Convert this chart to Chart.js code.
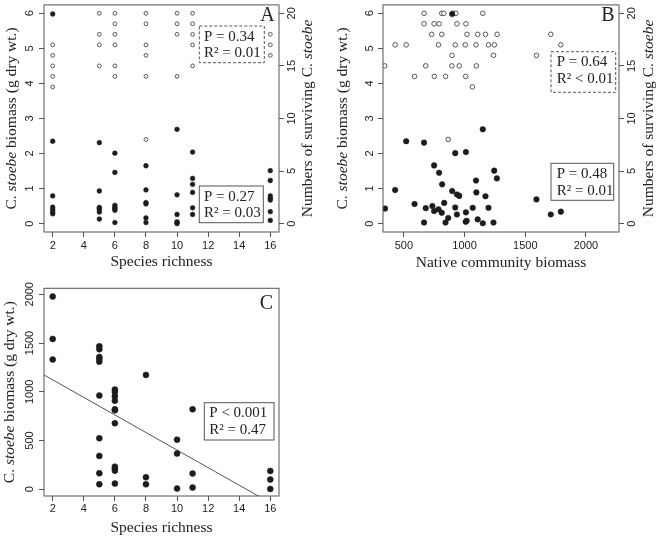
<!DOCTYPE html>
<html><head><meta charset="utf-8">
<script src="https://cdn.jsdelivr.net/npm/chart.js@4.4.0/dist/chart.umd.min.js"></script>
<style>
html,body{margin:0;padding:0;background:#fff;}
#wrap{position:relative;width:667px;height:542px;overflow:hidden;background:#fff;}
canvas{position:absolute;}
</style></head><body>
<div id="wrap">
<canvas id="cA" width="333" height="270" style="left:0;top:0"></canvas>
<canvas id="cB" width="334" height="270" style="left:333px;top:0"></canvas>
<canvas id="cC" width="333" height="272" style="left:0;top:270px"></canvas>
</div>
<script>
// ---------- DATA ----------
// Panel A: filled = C. stoebe biomass (left axis), open = number surviving (right axis)
const aBioRichness = [2,2,2,2,2,2,2, 5,5,5,5,5,5, 6,6,6,6,6,6,6, 8,8,8,8,8,8, 10,10,10,10,10,10, 11,11,11,11,11,11, 16,16,16,16,16,16,16];
const aBiomass     = [5.98,2.35,0.79,0.47,0.40,0.33,0.28, 2.31,0.93,0.46,0.41,0.33,0.13, 2.01,1.46,0.52,0.46,0.43,0.38,0.03, 1.65,0.96,0.60,0.56,0.16,0.03, 2.69,0.82,0.26,0.05,0.02,0.00, 2.04,1.29,1.12,0.89,0.45,0.26, 1.51,1.23,0.79,0.72,0.67,0.34,0.09];
const aCountRichness = [2,2,2,2,2, 5,5,5,5, 6,6,6,6,6,6, 8,8,8,8,8,8, 10,10,10,10, 11,11,11,11,11, 16,16,16];
const aCount         = [17,16,15,14,13, 20,18,17,15, 20,19,18,17,15,14, 20,19,17,16,14,8, 20,19,18,14, 20,19,18,17,15, 18,17,16];

// Panel B: against native community biomass
const bBioNative = [898,519,666,923,1011,1150,749,790,815,1094,1244,1266,428,898,937,956,1097,1172,345,588,680,735,749,785,812,832,923,937,1011,1067,1197,666,843,865,1017,1009,1108,1150,1238,1592,1710,1793];
const bBiomass   = [5.98,2.35,2.31,2.01,2.04,2.69,1.66,1.45,1.12,1.23,1.51,1.29,0.96,0.93,0.83,0.79,0.89,0.78,0.43,0.56,0.44,0.50,0.36,0.41,0.31,0.59,0.46,0.26,0.32,0.45,0.45,0.03,0.03,0.16,0.08,0.05,0.12,0.01,0.03,0.69,0.26,0.34];
const bCountNative = [666,812,829,905,928,1150, 666,749,790,937,1011, 729,812,1020,1108,1172,1268,1710, 428,519,785,923,1006,1094,1197,1245,1793, 897,1238,1592, 342,680,895,956,1097, 588,751,843,1009, 1064, 865];
const bCount       = [20,20,20,20,20,20, 19,19,19,19,19, 18,18,18,18,18,18,18, 17,17,17,17,17,17,17,17,17, 16,16,16, 15,15,15,15,15, 14,14,14,14, 13, 8];

// Panel C: community-level C. stoebe biomass vs species richness
const cRichness = [2,2,2, 5,5,5,5,5,5,5,5,5,5, 6,6,6,6,6,6,6,6,6,6,6, 8,8,8, 10,10,10, 11,11,11, 16,16,16];
const cBiomass  = [1976,1542,1330, 1467,1436,1357,1337,1309,961,523,342,164,51, 1022,998,954,909,820,810,677,232,212,191,58, 1173,123,51, 509,366,7, 820,161,17, 188,99,3];
const cFitIntercept = 1302;
const cFitSlope = -90;

// Tick labels
const richnessTicks = [2,4,6,8,10,12,14,16];
const biomassTicks = [0,1,2,3,4,5,6];
const countTicks = [0,5,10,15,20];
const nativeTicks = [500,1000,1500,2000];
const commBiomassTicks = [0,500,1000,1500,2000];

// ---------- STYLE ----------
const SANS = "'Liberation Sans', Arial, sans-serif";
const SERIF = "'Liberation Serif', 'Times New Roman', serif";
const AXIS = '#555';
const TXT = '#222';

function pts(xs, ys){ return xs.map((x,i)=>({x:x, y:ys[i]})); }

function axis(o){
  const vert = o.position !== 'bottom';
  return {
    type:'linear', position:o.position, min:o.min, max:o.max,
    grid:{display:true, drawOnChartArea:false, drawTicks:true, tickLength:5, color:AXIS, tickColor:AXIS, tickWidth:1},
    border:{display:false},
    ticks:{autoSkip:false, display:!vert, padding:o.pad||0, font:{family:SANS, size:11}, color:TXT,
           maxRotation:0, minRotation:0, callback:v=>String(v)},
    afterBuildTicks:s=>{ s.ticks = o.ticks.map(v=>({value:v})); },
    afterFit:s=>{ if(vert){ s.width=o.size; } else { s.height=o.size; } s.paddingTop=0; s.paddingBottom=0; s.paddingLeft=0; s.paddingRight=0; },
    labelOffset:o.labOff
  };
}

const extras = {
  cA:{
    titles:[
      {kind:'x', off:30, parts:[['Species richness',false]]},
      {kind:'yl', off:32, parts:[['C. ',false],['stoebe',true],[' biomass (g dry wt.)',false]]},
      {kind:'yr', off:29.3, parts:[['Numbers of surviving C. ',false],['stoebe',true]]}
    ],
    boxes:[
      {x:199.3, y:26, w:65, h:36.7, dash:true, tx:204, lines:['P = 0.34','R² = 0.01']},
      {x:199.3, y:186, w:64, h:36.7, dash:false, tx:204, lines:['P = 0.27','R² = 0.03']}
    ],
    letter:{t:'A', x:267.5, y:15.5}
  },
  cB:{
    titles:[
      {kind:'x', off:31, parts:[['Native community biomass',false]]},
      {kind:'yl', off:40, parts:[['C. ',false],['stoebe',true],[' biomass (g dry wt.)',false]]},
      {kind:'yr', off:30, parts:[['Numbers of surviving C. ',false],['stoebe',true]]}
    ],
    boxes:[
      {x:218, y:51.7, w:64.7, h:40.6, dash:true, tx:223.7, lines:['P = 0.64','R² < 0.01']},
      {x:218, y:163.3, w:62.7, h:37, dash:false, tx:223.7, lines:['P = 0.48','R² = 0.01']}
    ],
    letter:{t:'B', x:275, y:15.5}
  },
  cC:{
    titles:[
      {kind:'x', off:32.3, parts:[['Species richness',false]]},
      {kind:'yl', off:34, parts:[['C. ',false],['stoebe',true],[' biomass (g dry wt.)',false]]}
    ],
    boxes:[
      {x:204.3, y:132.7, w:69.7, h:37.3, dash:false, tx:209.3, lines:['P < 0.001','R² = 0.47']}
    ],
    letter:{t:'C', x:266.3, y:33.7}
  }
};

function drawRich(ctx, parts, cx, cy, rot, size){
  ctx.save();
  ctx.translate(cx, cy); ctx.rotate(rot);
  ctx.textBaseline='middle'; ctx.textAlign='left'; ctx.fillStyle=TXT;
  const fonts = parts.map(p=>(p[1]?'italic ':'')+size+'px '+SERIF);
  const widths = parts.map((p,i)=>{ ctx.font=fonts[i]; return ctx.measureText(p[0]).width; });
  let x = -widths.reduce((a,b)=>a+b,0)/2;
  parts.forEach((p,i)=>{ ctx.font=fonts[i]; ctx.fillText(p[0], x, 0); x+=widths[i]; });
  ctx.restore();
}

// Draws the vertical-axis tick labels rotated (R style), using the scales' own ticks
function drawYTickLabels(chart){
  const ctx = chart.ctx, a = chart.chartArea;
  Object.values(chart.scales).forEach(s=>{
    if(s.isHorizontal()) return;
    const off = s.options.labelOffset;
    const x = s.position === 'left' ? a.left - off : a.right + off;
    ctx.save();
    ctx.fillStyle = TXT; ctx.font = '11px '+SANS;
    ctx.textAlign='center'; ctx.textBaseline='middle';
    s.ticks.forEach(t=>{
      const y = s.getPixelForValue(t.value);
      ctx.save(); ctx.translate(x, y); ctx.rotate(-Math.PI/2);
      ctx.fillText(t.label != null ? String(t.label) : String(t.value), 0, 0);
      ctx.restore();
    });
    ctx.restore();
  });
}

const framePlugin = {
  id:'frame',
  afterDraw(chart){
    const ctx = chart.ctx, a = chart.chartArea, ex = extras[chart.canvas.id];
    ctx.save();
    ctx.strokeStyle = AXIS; ctx.lineWidth = 1;
    ctx.strokeRect(a.left, a.top, a.right-a.left, a.bottom-a.top);
    drawYTickLabels(chart);
    const cx = (a.left+a.right)/2, cy = (a.top+a.bottom)/2;
    ex.titles.forEach(t=>{
      if(t.kind==='x') drawRich(ctx, t.parts, cx, a.bottom+t.off, 0, 15.5);
      else if(t.kind==='yl') drawRich(ctx, t.parts, a.left-t.off, cy, -Math.PI/2, 15.5);
      else drawRich(ctx, t.parts, a.right+t.off, cy, -Math.PI/2, 15.5);
    });
    ex.boxes.forEach(b=>{
      ctx.save();
      ctx.fillStyle='#fff'; ctx.fillRect(b.x, b.y, b.w, b.h);
      ctx.strokeStyle = AXIS; ctx.lineWidth = 1;
      if(b.dash) ctx.setLineDash([3,2]);
      ctx.strokeRect(b.x, b.y, b.w, b.h);
      ctx.restore();
      ctx.fillStyle=TXT; ctx.font='15px '+SERIF; ctx.textBaseline='middle'; ctx.textAlign='left';
      ctx.fillText(b.lines[0], b.tx, b.y+10.6);
      ctx.fillText(b.lines[1], b.tx, b.y+27.3);
    });
    ctx.fillStyle=TXT; ctx.font='20px '+SERIF; ctx.textAlign='center'; ctx.textBaseline='middle';
    ctx.fillText(ex.letter.t, ex.letter.x, ex.letter.y);
    ctx.restore();
  }
};

const baseOpts = {
  responsive:false, animation:false, devicePixelRatio:1,
  events:[],
  plugins:{legend:{display:false}, tooltip:{enabled:false}, title:{display:false}}
};

function filledDs(data, r){
  return {data, yAxisID:'y', pointRadius:r, pointBackgroundColor:'#1c1c1c', pointBorderColor:'#1c1c1c', pointBorderWidth:0.5, showLine:false};
}
function openDs(data, r){
  return {data, yAxisID:'y2', pointRadius:r, pointBackgroundColor:'#fff', pointBorderColor:'#444', pointBorderWidth:0.9, showLine:false};
}

// Panel A
new Chart(document.getElementById('cA'), {
  type:'scatter',
  data:{datasets:[ filledDs(pts(aBioRichness, aBiomass), 2.4), openDs(pts(aCountRichness, aCount), 1.9) ]},
  options:Object.assign({}, baseOpts, {
    layout:{padding:{left:0, right:0, top:4.5, bottom:0}},
    scales:{
      x:axis({position:'bottom', min:1.44, max:16.56, ticks:richnessTicks, pad:2.5, size:38}),
      y:axis({position:'left', min:-0.24, max:6.24, ticks:biomassTicks, labOff:14, size:44}),
      y2:axis({position:'right', min:-0.8, max:20.8, ticks:countTicks, labOff:13.3, size:54})
    }
  }),
  plugins:[framePlugin]
});

// Panel B
new Chart(document.getElementById('cB'), {
  type:'scatter',
  data:{datasets:[ filledDs(pts(bBioNative, bBiomass), 2.8), openDs(pts(bCountNative, bCount), 2.3) ]},
  options:Object.assign({}, baseOpts, {
    layout:{padding:{left:0, right:0, top:4.5, bottom:0}},
    scales:{
      x:axis({position:'bottom', min:328, max:2272, ticks:nativeTicks, pad:2.5, size:38}),
      y:axis({position:'left', min:-0.24, max:6.24, ticks:biomassTicks, labOff:12.6, size:50}),
      y2:axis({position:'right', min:-0.8, max:20.8, ticks:countTicks, labOff:13, size:48})
    }
  }),
  plugins:[framePlugin]
});

// Panel C
const cXmin = 1.44, cXmax = 16.56;
new Chart(document.getElementById('cC'), {
  type:'scatter',
  data:{datasets:[
    {data:pts(cRichness, cBiomass), pointRadius:3, pointBackgroundColor:'#1c1c1c', pointBorderColor:'#1c1c1c', pointBorderWidth:0.5, showLine:false},
    {data:[{x:cXmin, y:cFitIntercept + cFitSlope*cXmin},{x:cXmax, y:cFitIntercept + cFitSlope*cXmax}],
     showLine:true, pointRadius:0, borderColor:'#555', borderWidth:1, fill:false}
  ]},
  options:Object.assign({}, baseOpts, {
    layout:{padding:{left:0, right:54, top:18.3, bottom:0}},
    scales:{
      x:axis({position:'bottom', min:cXmin, max:cXmax, ticks:richnessTicks, pad:1.5, size:46}),
      y:axis({position:'left', min:-69, max:2061, ticks:commBiomassTicks, labOff:14, size:44})
    }
  }),
  plugins:[framePlugin]
});
</script>
</body></html>
